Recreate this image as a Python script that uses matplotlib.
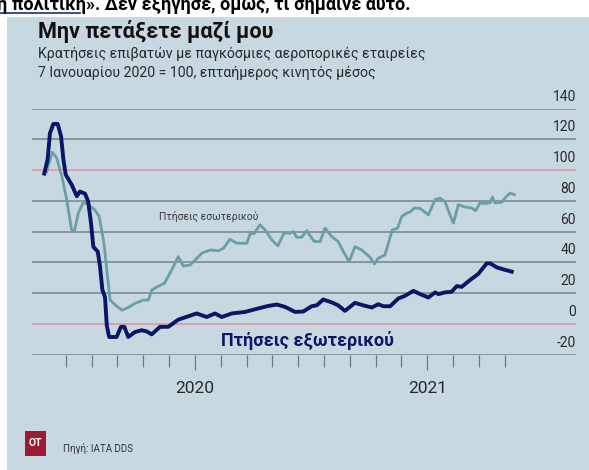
import matplotlib
matplotlib.use('Agg')
import matplotlib.pyplot as plt
import matplotlib.transforms as mtransforms
from matplotlib.patches import Rectangle

plt.rcParams['font.family'] = ['Roboto', 'DejaVu Sans']

# x in tick units (18 evenly spaced ticks, year labels on ticks 5 and 14)
intl_x = [-0.83, -0.70, -0.61, -0.48, -0.31, -0.18, -0.09, 0.00, 0.23, 0.43, 0.55, 0.75,
          0.87, 0.98, 1.07, 1.24, 1.33, 1.42, 1.52, 1.59, 1.68, 1.97, 2.14, 2.27, 2.42,
          2.68, 2.94, 3.14, 3.33, 3.65, 3.97, 4.36, 4.75, 5.07, 5.46, 5.78, 6.04, 6.43,
          6.94, 7.46, 7.84, 8.17, 8.49, 8.88, 9.20, 9.52, 9.72, 9.97, 10.30, 10.55, 10.81,
          11.20, 11.52, 11.85, 12.10, 12.30, 12.56, 12.88, 13.14, 13.46, 13.72, 14.04,
          14.30, 14.43, 14.68, 14.94, 15.14, 15.33, 15.65, 15.97, 16.30, 16.43, 16.69,
          16.94, 17.27]
intl = [97.7, 107, 124, 130, 130, 122, 107, 97, 90.5, 83, 86, 84.6,
        79.6, 65.5, 50, 47, 37, 22, 17.5, -1, -8.6, -8.6, -2, -2, -8.6,
        -5.4, -4.2, -5, -6.9, -2, -2, 2.7, 4.9, 6.7, 4.4, 6.7, 4.4, 6.7,
        7.7, 10, 11.6, 12.5, 11, 7.7, 8, 11.4, 12, 15.8, 13.9, 12, 8.4,
        13.6, 12, 10.6, 12.7, 11.4, 11.4, 16.5, 18.2, 21.4, 19.3, 17.1,
        20.4, 19.3, 20.4, 20.8, 24.5, 24, 28.4, 32.4, 39.3, 39.3, 36.7,
        35.4, 33.9]

dom_x = [-0.74, -0.52, -0.35, -0.15, 0.04, 0.23, 0.33, 0.49, 0.68, 0.87, 1.13, 1.29,
         1.39, 1.48, 1.59, 1.72, 1.97, 2.19, 2.42, 2.68, 3.00, 3.20, 3.33, 3.59, 3.82,
         4.10, 4.36, 4.55, 4.81, 5.07, 5.27, 5.59, 5.91, 6.10, 6.36, 6.62, 7.01, 7.14,
         7.30, 7.52, 7.72, 7.98, 8.21, 8.46, 8.68, 8.81, 8.94, 9.14, 9.33, 9.62, 9.85,
         10.04, 10.30, 10.55, 10.75, 10.97, 11.20, 11.46, 11.78, 11.95, 12.10, 12.36,
         12.49, 12.64, 12.85, 13.01, 13.20, 13.33, 13.50, 13.72, 14.04, 14.30, 14.49,
         14.68, 14.85, 15.01, 15.20, 15.46, 15.72, 15.87, 16.04, 16.26, 16.43, 16.52,
         16.62, 16.88, 17.04, 17.20, 17.37]
dom = [99, 111.6, 108, 96, 80.7, 61, 60, 72, 79, 77.5, 74, 70,
       61, 52.4, 35, 15.4, 11.4, 8.8, 10.6, 13.2, 15.4, 15.4, 21.9, 24.5, 26.3,
       35, 43.7, 37.6, 38.2, 42.5, 45.9, 48, 47.5, 49, 55, 52.4, 52.4, 58.5,
       58.8, 64.4, 61, 54.6, 50.7, 59.3, 58.8, 60, 56.3, 56.3, 60.6, 53.5, 53.5,
       62.2, 56.7, 53.5, 47, 40.4, 50.2, 48, 43.3, 38.9, 42.6, 44.8,
       52.4, 61, 62.2, 69.8, 72, 72.7, 75.3, 75, 70.9, 80.7, 81.8,
       79.6, 72, 65.5, 77.5, 76, 75.3, 73.5, 78.6, 78.3, 78.6, 82.5,
       78.6, 79, 82.5, 85, 84]

y_ticks = [-20, 0, 20, 40, 60, 80, 100, 120, 140]
year_ticks = [5, 14]
year_labels = ['2020', '2021']
minor_ticks = [i for i in range(18) if i not in year_ticks]

W, H = 589, 470
BG = '#c8d8e1'
NAVY = '#0c1668'
TEAL = '#6b9ea6'

fig = plt.figure(figsize=(W / 100, H / 100), dpi=100)
fig.patch.set_facecolor('white')


def fx(px):
    return px / W


def fy(py):
    return 1 - py / H


# panel background
fig.patches.append(Rectangle((fx(7), 0), 1 - fx(7), fy(17), transform=fig.transFigure,
                             facecolor=BG, edgecolor='none', zorder=-10))

# cut-off article text at the very top
fig.text(fx(-3), fy(10), 'η πολιτική». Δεν εξήγησε, όμως, τι σήμαινε αυτό.',
         fontsize=13, fontweight='bold', color='black', va='baseline')
fig.lines.append(plt.Line2D([0, fx(80)], [fy(13), fy(13)], transform=fig.transFigure,
                            color='#1f2f7a', lw=1.2))

fig.text(fx(38), fy(38), 'Μην πετάξετε μαζί μου', fontsize=15.6, fontweight='bold',
         color='#111111', va='baseline')
fig.text(fx(38), fy(58), 'Κρατήσεις επιβατών με παγκόσμιες αεροπορικές εταιρείες',
         fontsize=10.2, color='#2a2a2a', va='baseline')
fig.text(fx(38), fy(77), '7 Ιανουαρίου 2020 = 100, επταήμερος κινητός μέσος',
         fontsize=10.2, color='#2a2a2a', va='baseline')

# chart axes
left, right, top, bottom = 32, 576, 108.6, 354.5
ax = fig.add_axes([fx(left), fy(bottom), fx(right - left), (bottom - top) / H])
ax.set_facecolor('none')
ax.set_xlim(-1.305, 19.756)
ax.set_ylim(-20, 140)
for s in ax.spines.values():
    s.set_visible(False)

for v in y_ticks:
    c = '#d99aa5' if v in (0, 100) else '#7d8b92'
    ax.axhline(v, color=c, lw=1.2, zorder=1)

trans = mtransforms.blended_transform_factory(ax.transAxes, ax.transData)
for v in y_ticks:
    ax.annotate(str(v), xy=(1.0, v), xycoords=trans, xytext=(0, 3.5),
                textcoords='offset points', ha='right', va='bottom',
                fontsize=10, color='#2a2a2a', annotation_clip=False)

ax.set_yticks([])
ax.set_xticks(year_ticks)
ax.set_xticklabels(year_labels)
ax.set_xticks(minor_ticks, minor=True)
ax.tick_params(axis='x', which='major', length=11, width=0.9, color='#6f7a80',
               labelsize=12.5, labelcolor='#2a2a2a', pad=8)
ax.tick_params(axis='x', which='minor', length=8.5, width=0.9, color='#6f7a80')

ax.plot(dom_x, dom, color=TEAL, lw=2.0, zorder=3, solid_joinstyle='round')
ax.plot(intl_x, intl, color=NAVY, lw=2.8, zorder=4, solid_joinstyle='round')

ax.text(5.55, 70, 'Πτήσεις εσωτερικού', fontsize=7.5, color='#3a3a3a',
        ha='center', va='center')
ax.text(9.36, -11, 'Πτήσεις εξωτερικού', fontsize=13, fontweight='bold', color=NAVY,
        ha='center', va='center')

# footer
fig.patches.append(Rectangle((fx(25), fy(455.7)), fx(21), (455.7 - 430.7) / H,
                             transform=fig.transFigure, facecolor='#9c1b33',
                             edgecolor='none'))
fig.text(fx(35.5), fy(443.5), 'OT', fontsize=7.5, fontweight='bold', color='white',
         ha='center', va='center')
fig.text(fx(63), fy(448), 'Πηγή: IATA DDS', fontsize=7, color='#333333', va='center')

fig.savefig('out.png', dpi=100, facecolor=fig.get_facecolor())
